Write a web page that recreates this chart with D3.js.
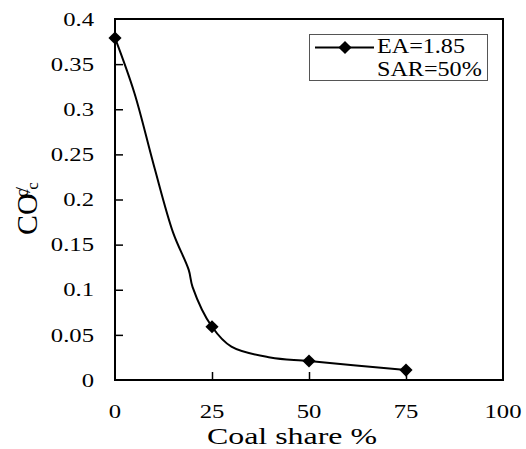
<!DOCTYPE html>
<html>
<head>
<meta charset="utf-8">
<script src="https://cdn.jsdelivr.net/npm/d3@7"></script>
<style>
  body { margin: 0; background: #fff; }
</style>
</head>
<body>
<div id="vis"></div>
<script>
// marker points
const share = [0, 25, 50, 75]
const co = [0.379, 0.059, 0.021, 0.011]

// points of the drawn (smoothed) line
const lineShare = [0, 5, 10, 15, 19, 20, 25, 30, 40, 50, 75]
const lineCo = [0.379, 0.318, 0.238, 0.163, 0.122, 0.103, 0.059, 0.037, 0.025, 0.021, 0.011]

const xTicks = [0, 25, 50, 75, 100]
const yTicks = [0, 0.05, 0.1, 0.15, 0.2, 0.25, 0.3, 0.35, 0.4]

const WIDTH = 526
const HEIGHT = 449
const MARGINS = { left: 115, right: 23, top: 19, bottom: 69 }
const FONT = "'Liberation Serif'"

const svg = d3.select("#vis")
    .append("svg")
    .attr("width", WIDTH)
    .attr("height", HEIGHT)

const X = d3.scaleLinear()
    .domain([0, 100])
    .range([MARGINS.left, WIDTH - MARGINS.right])

const Y = d3.scaleLinear()
    .domain([0, 0.4])
    .range([HEIGHT - MARGINS.bottom, MARGINS.top])

// the original figure is stretched sideways, so its text is too
function place(x, y, sx) {
    return "translate(" + x + "," + y + ") scale(" + sx + ",1)"
}

// frame
svg.append("rect")
    .attr("x", X(0))
    .attr("y", Y(0.4))
    .attr("width", X(100) - X(0))
    .attr("height", Y(0) - Y(0.4))
    .attr("fill", "none")
    .attr("stroke", "#000")
    .attr("stroke-width", 2)

// y axis
const yAxis = svg.append("g")
    .attr("transform", "translate(" + X(0) + ",0)")
    .call(d3.axisRight(Y).tickValues(yTicks.slice(1, -1)).tickSize(8).tickFormat(""))
yAxis.select(".domain").remove()
yAxis.selectAll("line").attr("stroke-width", 1.5)

svg.selectAll(".ylab")
    .data(yTicks)
    .enter()
    .append("text")
    .attr("class", "ylab")
    .attr("transform", d => place(94, Y(d), 1.3))
    .attr("dy", "0.35em")
    .attr("text-anchor", "end")
    .style("font-family", FONT)
    .style("font-size", "19px")
    .text(d => d)

// x axis
const xAxis = svg.append("g")
    .attr("transform", "translate(0," + Y(0) + ")")
    .call(d3.axisTop(X).tickValues(xTicks.slice(1, -1)).tickSize(8).tickFormat(""))
xAxis.select(".domain").remove()
xAxis.selectAll("line").attr("stroke-width", 1.5)

svg.selectAll(".xlab")
    .data(xTicks)
    .enter()
    .append("text")
    .attr("class", "xlab")
    .attr("transform", d => place(X(d), 418, 1.3))
    .attr("text-anchor", "middle")
    .style("font-family", FONT)
    .style("font-size", "19px")
    .text(d => d)

// axis titles
svg.append("text")
    .attr("transform", place(292, 443.5, 1.33))
    .attr("text-anchor", "middle")
    .style("font-family", FONT)
    .style("font-size", "24px")
    .text("Coal share %")

const yt = svg.append("text")
    .attr("transform", "translate(37,235) rotate(-90)")
    .attr("text-anchor", "start")
    .style("font-family", FONT)
    .style("font-size", "30px")
yt.append("tspan").text("CO")
yt.append("tspan").style("font-size", "19px").attr("dx", -4).attr("dy", -9).text("c")
yt.append("tspan").style("font-size", "22px").attr("dx", -4).attr("dy", 2).text("/")
yt.append("tspan").style("font-size", "17px").attr("dx", -3).attr("dy", 8).text("c")

// line
const lineData = lineShare.map((d, i) => ({ x: d, y: lineCo[i] }))
svg.append("path")
    .datum(lineData)
    .attr("fill", "none")
    .attr("stroke", "#000")
    .attr("stroke-width", 2)
    .attr("d", d3.line().x(d => X(d.x)).y(d => Y(d.y)).curve(d3.curveCatmullRom.alpha(0.5)))

// markers
const diamond = d3.symbol().type(d3.symbolDiamond2).size(110)
svg.selectAll(".pt")
    .data(share)
    .enter()
    .append("path")
    .attr("class", "pt")
    .attr("transform", (d, i) => "translate(" + X(d) + "," + Y(co[i]) + ")")
    .attr("d", diamond)
    .attr("fill", "#000")

// legend
svg.append("rect")
    .attr("x", 309.5)
    .attr("y", 34.5)
    .attr("width", 178)
    .attr("height", 46)
    .attr("fill", "#fff")
    .attr("stroke", "#555")
    .attr("stroke-width", 1)

svg.append("line")
    .attr("x1", 315).attr("x2", 374)
    .attr("y1", 47.5).attr("y2", 47.5)
    .attr("stroke", "#000")
    .attr("stroke-width", 2)

svg.append("path")
    .attr("transform", "translate(345,47.5)")
    .attr("d", diamond)
    .attr("fill", "#000")

svg.append("text")
    .attr("transform", place(377, 53, 1.15))
    .style("font-family", FONT)
    .style("font-size", "21px")
    .text("EA=1.85")

svg.append("text")
    .attr("transform", place(377, 76, 1.15))
    .style("font-family", FONT)
    .style("font-size", "21px")
    .text("SAR=50%")
</script>
</body>
</html>
